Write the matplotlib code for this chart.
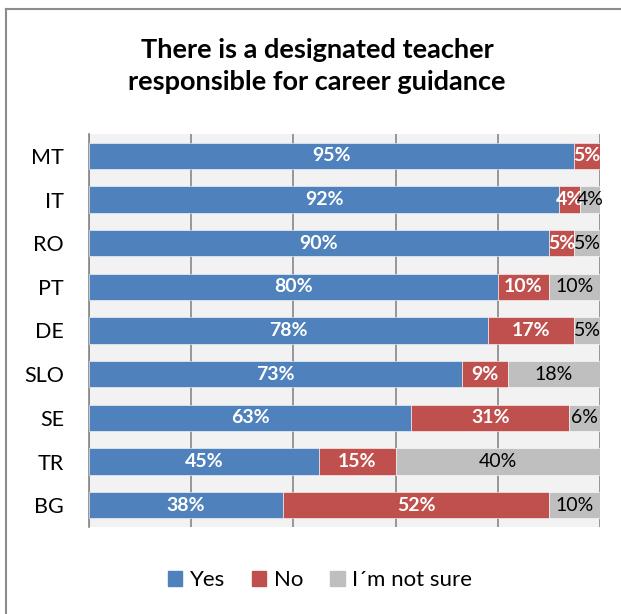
import matplotlib
matplotlib.use("Agg")
import matplotlib.pyplot as plt
from matplotlib.patches import Rectangle
from matplotlib.lines import Line2D

plt.rcParams['font.family'] = ['Lato', 'DejaVu Sans']

countries = ["MT", "IT", "RO", "PT", "DE", "SLO", "SE", "TR", "BG"]
yes = [95, 92, 90, 80, 78, 73, 63, 45, 38]
no = [5, 4, 5, 10, 17, 9, 31, 15, 52]
not_sure = [0, 4, 5, 10, 5, 18, 6, 40, 10]
series_names = ["Yes", "No", "I´m not sure"]
colors = ["#4F81BD", "#C0504D", "#BFBFBF"]
title = "There is a designated teacher\nresponsible for career guidance"

W, H = 621, 614
fig = plt.figure(figsize=(W / 100, H / 100), dpi=100)

# chart frame (left and top lines visible)
fig.add_artist(Line2D([6 / W, 6 / W], [0, 1 - 9 / H], transform=fig.transFigure, color="#8C8C8C", lw=1.5))
fig.add_artist(Line2D([6 / W, 1], [1 - 9 / H, 1 - 9 / H], transform=fig.transFigure, color="#8C8C8C", lw=1.5))

left, right, top, bottom = 89, 600, 134, 527
ax = fig.add_axes([left / W, 1 - bottom / H, (right - left) / W, (bottom - top) / H])
ax.set_facecolor("#F2F2F2")

n = len(countries)
ypos = list(range(n))
lefts = [0] * n
for vals, col, name in zip([yes, no, not_sure], colors, series_names):
    ax.barh(ypos, vals, left=lefts, height=0.6, color=col, edgecolor="white", linewidth=0.4, zorder=3, label=name)
    for i, v in enumerate(vals):
        if v <= 0:
            continue
        cx = lefts[i] + v / 2
        if name == "I´m not sure":
            ax.text(cx, i, f"{v}%", ha="center", va="center", fontsize=14, color="black", zorder=4)
        else:
            ax.text(cx, i, f"{v}%", ha="center", va="center", fontsize=14, fontweight="bold", color="white", zorder=4)
    lefts = [a + b for a, b in zip(lefts, vals)]

ax.set_xlim(0, 100)
ax.set_ylim(n - 0.5, -0.5)
ax.set_xticks([0, 20, 40, 60, 80, 100])
ax.set_xticklabels([])
ax.tick_params(axis="x", length=0)
ax.grid(axis="x", color="#868686", linewidth=1.2, zorder=1)
ax.set_yticks(ypos)
ax.set_yticklabels(countries, fontsize=15.5)
ax.tick_params(axis="y", length=0, pad=18)
for lab in ax.get_yticklabels():
    lab.set_horizontalalignment("right")
for s in ["top", "bottom", "right"]:
    ax.spines[s].set_visible(False)
ax.spines["left"].set_color("#868686")
ax.spines["left"].set_linewidth(1.2)

fig.text(317 / W, 1 - 66 / H, title, ha="center", va="center", fontsize=19.5, fontweight="bold", linespacing=1.4)

handles = [Rectangle((0, 0), 1, 1, color=c) for c in colors]
fig.legend(handles, series_names, loc="center", bbox_to_anchor=(320 / W, 1 - 580 / H), ncol=3, frameon=False,
           fontsize=16, handlelength=0.65, handleheight=0.65, handletextpad=0.35, columnspacing=1.2)

fig.savefig("out.png", dpi=100)
